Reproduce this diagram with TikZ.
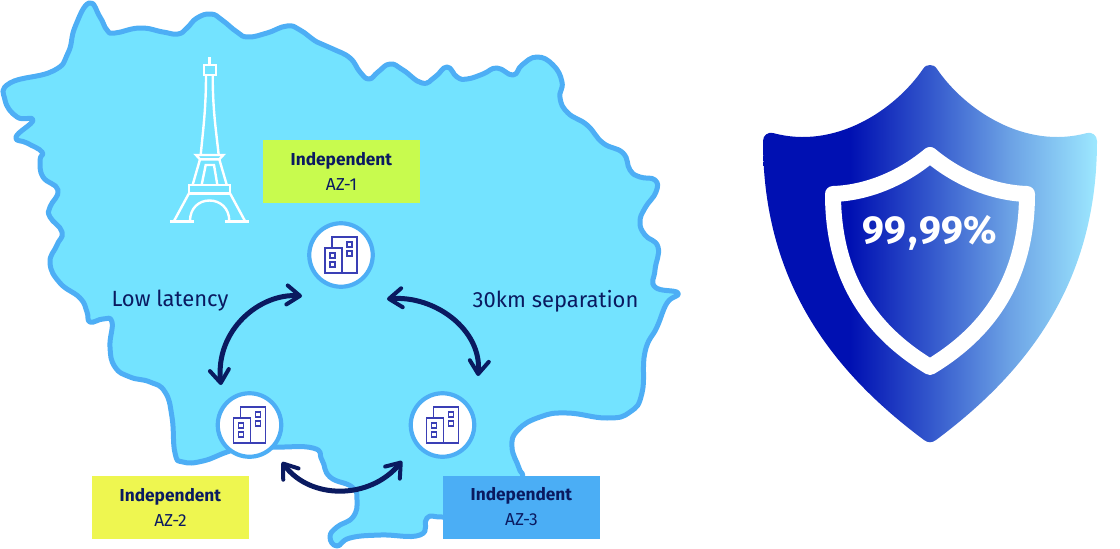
\documentclass[tikz,border=0pt]{standalone}
\usepackage{fontspec}
\usepackage{xcolor}
\setmainfont{Fira Sans}
\usetikzlibrary{arrows.meta}

\definecolor{mapfill}{HTML}{73E3FF}
\definecolor{mapline}{HTML}{4DAEF5}
\definecolor{navy}{HTML}{0A1A60}
\definecolor{iconblue}{HTML}{3A3FB5}
\definecolor{limebox}{HTML}{C8FB4E}
\definecolor{yellowbox}{HTML}{EEF650}
\definecolor{bluebox}{HTML}{4BAEF5}
\definecolor{shielda}{HTML}{0010B2}
\definecolor{shieldb}{HTML}{3357CC}
\definecolor{shieldc}{HTML}{6CA2E5}
\definecolor{shieldd}{HTML}{9DE8FF}

\pgfdeclarehorizontalshading{shieldfade}{100bp}{color(0bp)=(shielda); color(38bp)=(shielda); color(50bp)=(shieldb); color(62bp)=(shieldc); color(75bp)=(shieldd); color(100bp)=(shieldd)}

\tikzset{
    azbox/.style={minimum width=157pt, minimum height=63pt, inner sep=0pt, align=center, text=navy, font=\fontsize{17.3}{25}\selectfont},
    azcircle/.style={circle, draw=mapline, fill=white, line width=4.2pt, minimum size=63.5pt, inner sep=0pt},
    tower/.style={draw=white, line width=2.4pt},
    link/.style={draw=navy, line width=5pt, line cap=round, {Straight Barb[length=13pt,width=19pt,line width=4pt,round]}-{Straight Barb[length=13pt,width=19pt,line width=4pt,round]}},
    saying/.style={text=navy, font=\fontsize{22}{24}\selectfont, inner sep=0pt},
    pics/building/.style={code={
        \draw[iconblue, line width=1.3pt] (-9,-7) -- (-9,-18) -- (16,-18) -- (16,18) -- (1,18);
        \draw[iconblue, line width=1.3pt] (-16,-7) rectangle (1,18);
        \foreach \wx/\wy in {-11/-2, -11/7, 6/-13, 6/-4} {
            \draw[iconblue, line width=1.3pt] (\wx,\wy) rectangle ++(5,5);
        }
    }}
}

\begin{document}
\begin{tikzpicture}[x=1pt, y=-1pt]
        \useasboundingbox (0,0) rectangle (1120,549);
        % Draw the region
        \draw[mapline, fill=mapfill, line width=5pt, line join=round] plot[smooth cycle, tension=0.8] coordinates {
            (89,3) (100,17) (107,30) (115,33) (140,28) (163,32) (178,34) (187,28) (197,18) (211,14) (222,20) (237,32) (248,37)
            (267,33) (287,26) (300,30) (317,42) (333,49) (350,58) (360,72) (369,79) (378,72) (390,64) (403,70) (422,83)
            (435,77) (447,67) (457,77) (467,79) (483,74) (497,68) (513,75) (522,65) (537,57) (553,65) (562,82) (560,98)
            (568,113) (587,125) (603,143) (623,153) (630,170) (640,177) (655,180) (656,192) (645,208) (640,222) (645,235)
            (658,247) (655,270) (655,287) (678,293) (667,303) (657,327) (645,352) (642,393) (630,412) (607,418) (567,413)
            (540,417) (518,430) (512,447) (519,468) (522,480) (510,510) (480,518) (442,517) (427,518) (420,535) (380,535) (350,538)
            (337,546) (330,537) (337,527) (353,517) (357,500) (352,487) (330,477) (322,460) (313,448) (273,447) (250,445)
            (227,452) (203,461) (183,462) (175,453) (172,417) (165,392) (150,382) (130,377) (115,367) (110,347) (112,322)
            (103,319) (90,322) (87,312) (80,298) (60,283) (50,263) (57,245) (62,232) (50,217) (50,207) (58,190) (43,177)
            (40,160) (42,152) (27,143) (16,137) (33,120) (17,117) (5,100) (10,83) (53,71) (68,53) (75,27)
        };
        % Draw the tower
        \draw[tower] (209.3,57) -- (209.3,65);
        \draw[tower] (203.7,65) rectangle (215.7,74.7);
        \draw[tower] (206,74.7) .. controls (206,110) and (203,130) .. (200.7,155);
        \draw[tower] (212.7,74.7) .. controls (212.7,110) and (216,130) .. (218.7,155);
        \draw[tower] (200,159.3) -- (196,155) -- (223.3,155) -- (219.3,159.3) -- cycle;
        \draw[tower] (200,159.3) -- (192.7,184.7);
        \draw[tower] (219.3,159.3) -- (226.7,184.7);
        \draw[tower] (201.7,184.7) -- (205.7,165) -- (214,165) -- (217.3,184.7);
        \draw[tower] (188.7,184.7) rectangle (230,193.3);
        \draw[tower] (189,193.3) -- (174,221);
        \draw[tower] (230,193.3) -- (245,221);
        \draw[tower] (170,221.3) -- (194.3,221.3);
        \draw[tower] (225,221.3) -- (249,221.3);
        \draw[tower] (190,221) .. controls (190,208) and (199,200.5) .. (209.5,200.5) .. controls (220,200.5) and (229.3,208) .. (229.3,221);
        % Draw the labels
        \node[azbox, fill=limebox] (azonebox) at (341.5,171.5) {\textbf{Independent}\\AZ-1};
        \node[azbox, fill=yellowbox] (aztwobox) at (170.5,507.5) {\textbf{Independent}\\AZ-2};
        \node[azbox, fill=bluebox] (azthreebox) at (521.5,507) {\textbf{Independent}\\AZ-3};
        \node[saying] (lowlatency) at (170,301) {Low latency};
        \node[saying] (separation) at (555.5,301) {30km separation};
        % Draw the zones
        \node[azcircle] (azone) at (341,255) {};
        \node[azcircle] (aztwo) at (249.5,425) {};
        \node[azcircle] (azthree) at (442.5,425) {};
        \foreach \zone in {azone, aztwo, azthree} {
            \pic at (\zone) {building};
        }
        % Draw the links between the zones
        \coordinate (oneleft) at ([shift={(-39,41)}]azone.center);
        \coordinate (oneright) at ([shift={(46,44)}]azone.center);
        \coordinate (twotop) at ([shift={(-28.5,-40)}]aztwo.center);
        \coordinate (twobelow) at ([shift={(32.5,37)}]aztwo.center);
        \coordinate (threetop) at ([shift={(35.5,-49)}]azthree.center);
        \coordinate (threebelow) at ([shift={(-40.5,36)}]azthree.center);
        \draw[link] (oneleft) .. controls (260,293) and (215,330) .. (twotop);
        \draw[link] (oneright) .. controls (435,295) and (482,330) .. (threetop);
        \draw[link] (twobelow) .. controls (310,500) and (370,500) .. (threebelow);
        % Draw the shield
        \shade[shading=shieldfade] (930,65) .. controls (927,65) and (925,66) .. (923,69) .. controls (895,110) and (835,150) .. (773,133)
            .. controls (768,132) and (763,135) .. (763,141) .. controls (763,280) and (830,370) .. (924,440)
            .. controls (928,443) and (932,443) .. (936,440) .. controls (1030,370) and (1097,280) .. (1097,141)
            .. controls (1097,135) and (1092,132) .. (1087,133) .. controls (1025,150) and (965,110) .. (937,69)
            .. controls (935,66) and (933,65) .. (930,65) -- cycle;
        \draw[white, line width=16pt, line join=round] (930,155) .. controls (900,180) and (865,193) .. (833,194)
            .. controls (833,265) and (860,325) .. (930,367) .. controls (1000,325) and (1027,265) .. (1027,194)
            .. controls (995,193) and (960,180) .. (930,155) -- cycle;
        \node[text=white, font=\fontsize{39}{44}\selectfont\bfseries, inner sep=0pt] (uptime) at (930,233) {99\kern2pt,\kern2pt99\%};
    \end{tikzpicture}
\end{document}
